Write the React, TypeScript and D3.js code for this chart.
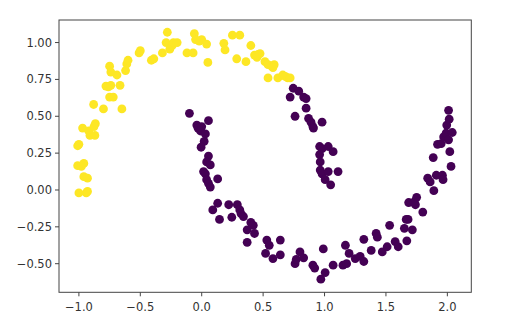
import React from "react";
import * as d3 from "d3";

// outer moon (label 1, yellow)
const outerX = [
  -1.0, -0.94, -0.93, -0.96, -0.93, -1.01, -0.98, -0.96, -1.01, -1.0, -0.97, -0.92, -0.91, -0.87, -0.866, -0.877,
  -0.88, -0.8, -0.78, -0.76, -0.74, -0.75, -0.72, -0.75, -0.74, -0.69, -0.665, -0.65, -0.62, -0.61, -0.6, -0.51,
  -0.5, -0.41, -0.39, -0.32, -0.29, -0.28, -0.26, -0.24, -0.23, -0.2, -0.12, -0.07, -0.06, -0.05, -0.02, 0.0,
  0.04, 0.05, 0.18, 0.19, 0.25, 0.31, 0.285, 0.36, 0.4, 0.43, 0.46, 0.45, 0.475, 0.515, 0.54, 0.57, 0.59, 0.58,
  0.54, 0.62, 0.66, 0.68, 0.7, 0.72,
];
const outerY = [
  -0.02, -0.02, -0.01, 0.09, 0.08, 0.165, 0.16, 0.18, 0.3, 0.31, 0.42, 0.4, 0.37, 0.37, 0.45, 0.43,
  0.58, 0.55, 0.705, 0.7, 0.71, 0.63, 0.63, 0.84, 0.8, 0.78, 0.71, 0.55, 0.81, 0.855, 0.88, 0.93,
  0.945, 0.88, 0.89, 0.93, 1.0, 1.07, 0.955, 0.98, 1.0, 1.0, 0.93, 0.93, 1.06, 1.02, 1.01, 1.02,
  0.99, 0.865, 0.995, 0.95, 1.05, 1.05, 0.89, 0.87, 0.98, 0.915, 0.92, 0.9, 0.925, 0.87, 0.85, 0.84, 0.85, 0.83,
  0.76, 0.76, 0.78, 0.77, 0.76, 0.76,
];

// inner moon (label 0, purple)
const innerX = [
  -0.1, -0.04, -0.03, 0.0, -0.01, 0.03, 0.055, 0.02, -0.005, 0.055, 0.04, 0.07, 0.015, 0.03, 0.04, 0.055,
  0.07, 0.13, 0.13, 0.09, 0.145, 0.22, 0.29, 0.31, 0.245, 0.32, 0.34, 0.4, 0.42, 0.37, 0.43, 0.37,
  0.53, 0.55, 0.52, 0.64, 0.58, 0.64, 0.76, 0.77, 0.8, 0.83, 0.905, 0.92, 0.97, 1.005, 0.99, 1.07,
  1.15, 1.18, 1.2, 1.17, 1.25, 1.29, 1.32, 1.32, 1.38, 1.42, 1.43, 1.47, 1.51, 1.53, 1.575, 1.6,
  1.65, 1.665, 1.68, 1.715, 1.67, 1.685, 1.73, 1.75, 1.74, 1.8, 1.84, 1.86, 1.89, 1.91, 1.96, 1.965,
  1.885, 1.92, 1.95, 1.97, 1.99, 2.01, 2.02, 2.04, 2.03, 1.995, 2.015, 2.01,
  0.745, 0.79, 0.72, 0.83, 0.85, 0.85, 0.76, 0.87, 0.89, 0.905, 0.91, 0.98, 0.96, 0.98, 1.03, 1.07,
  0.96, 0.965, 0.965, 0.98, 1.03, 1.11, 1.005, 1.05,
];
const innerY = [
  0.52, 0.44, 0.42, 0.43, 0.4, 0.38, 0.47, 0.33, 0.29, 0.23, 0.19, 0.17, 0.125, 0.11, 0.07, 0.045,
  0.02, 0.075, -0.09, -0.135, -0.2, -0.1, -0.1, -0.135, -0.185, -0.16, -0.18, -0.22, -0.24, -0.27, -0.295, -0.355,
  -0.34, -0.375, -0.43, -0.34, -0.465, -0.44, -0.5, -0.47, -0.42, -0.46, -0.51, -0.53, -0.605, -0.56, -0.4, -0.51,
  -0.51, -0.5, -0.43, -0.375, -0.465, -0.45, -0.485, -0.335, -0.41, -0.295, -0.32, -0.42, -0.385, -0.24, -0.35, -0.385,
  -0.26, -0.2, -0.2, -0.27, -0.345, -0.085, -0.08, -0.05, -0.1, -0.15, 0.08, 0.055, -0.005, 0.1, 0.1, 0.07,
  0.22, 0.31, 0.315, 0.36, 0.385, 0.34, 0.26, 0.39, 0.16, 0.44, 0.48, 0.54,
  0.69, 0.67, 0.63, 0.63, 0.62, 0.555, 0.5, 0.485, 0.46, 0.43, 0.42, 0.46, 0.295, 0.28, 0.295, 0.26,
  0.24, 0.19, 0.135, 0.11, 0.125, 0.125, 0.07, 0.035,
];

const xTicks = [-1.0, -0.5, 0.0, 0.5, 1.0, 1.5, 2.0];
const yTicks = [-0.5, -0.25, 0.0, 0.25, 0.5, 0.75, 1.0];

const W = 530;
const H = 323;
const left = 59, right = 471.3, top = 20, bottom = 292.3;

export default function App() {
  const x = d3.scaleLinear().domain([-1.162, 2.195]).range([left, right]);
  const y = d3.scaleLinear().domain([-0.694, 1.153]).range([bottom, top]);
  const fmtX = (v: number) => d3.format(".1f")(v).replace("-", "\u2212");
  const fmtY = (v: number) => d3.format(".2f")(v).replace("-", "\u2212");
  const font = "'DejaVu Sans', sans-serif";

  return (
    <svg width={W} height={H} style={{ position: "absolute", left: 0, top: 0, background: "#fff" }}>
      <g>
        {innerX.map((v, i) => (
          <circle key={"i" + i} cx={x(v)} cy={y(innerY[i])} r={4.4} fill="#440154" />
        ))}
        {outerX.map((v, i) => (
          <circle key={"o" + i} cx={x(v)} cy={y(outerY[i])} r={4.4} fill="#fde725" />
        ))}
      </g>
      <rect x={left} y={top} width={right - left} height={bottom - top} fill="none" stroke="#444" strokeWidth={1} />
      {xTicks.map((t) => (
        <g key={"x" + t} transform={`translate(${x(t)},${bottom})`}>
          <line y2={4} stroke="#444" />
          <text y={19} textAnchor="middle" fontFamily={font} fontSize={11.5} fill="#333">
            {fmtX(t)}
          </text>
        </g>
      ))}
      {yTicks.map((t) => (
        <g key={"y" + t} transform={`translate(${left},${y(t)})`}>
          <line x2={-4} stroke="#444" />
          <text x={-7} dy="0.35em" textAnchor="end" fontFamily={font} fontSize={11.5} fill="#333">
            {fmtY(t)}
          </text>
        </g>
      ))}
    </svg>
  );
}
